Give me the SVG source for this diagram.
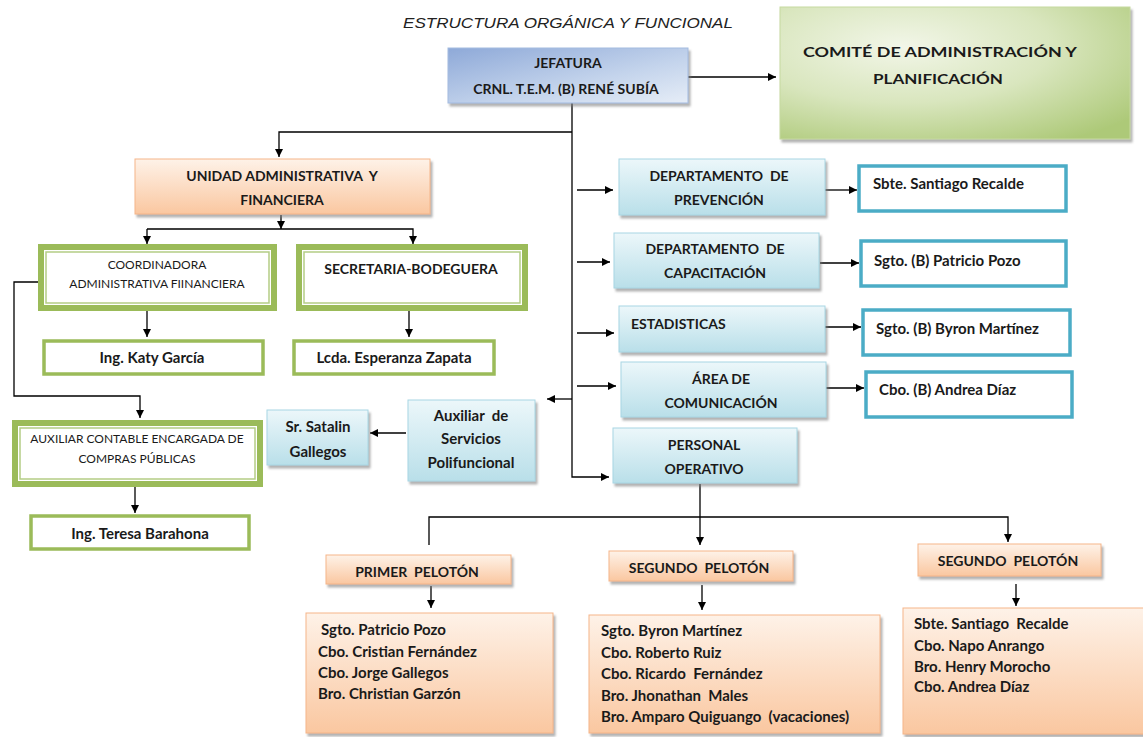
<svg xmlns="http://www.w3.org/2000/svg" width="1143" height="737" viewBox="0 0 1143 737">
<defs>
  <linearGradient id="gBlue" x1="0" y1="0" x2="0" y2="1">
    <stop offset="0" stop-color="#ecf7fa"/>
    <stop offset="1" stop-color="#b9dfe9"/>
  </linearGradient>
  <linearGradient id="gJef" x1="0" y1="0" x2="1" y2="1">
    <stop offset="0" stop-color="#8ea9d8"/>
    <stop offset="0.6" stop-color="#c4d4ec"/>
    <stop offset="1" stop-color="#e6edf7"/>
  </linearGradient>
  <radialGradient id="gCom" cx="0.35" cy="0.3" r="0.85">
    <stop offset="0" stop-color="#f2f6e8"/>
    <stop offset="0.5" stop-color="#d9e6be"/>
    <stop offset="1" stop-color="#adc978"/>
  </radialGradient>
  <linearGradient id="gOr" x1="0" y1="0" x2="0" y2="1">
    <stop offset="0" stop-color="#fef2e8"/>
    <stop offset="1" stop-color="#fac7a0"/>
  </linearGradient>
  <filter id="sh" x="-5%" y="-5%" width="115%" height="125%">
    <feDropShadow dx="2" dy="3" stdDeviation="1" flood-color="#7f7f7f" flood-opacity="0.6"/>
  </filter>
  <marker id="ar" viewBox="0 0 10 10" refX="10" refY="5" markerWidth="9" markerHeight="8" markerUnits="userSpaceOnUse" orient="auto">
    <path d="M0,0 L10,5 L0,10 Z" fill="#000"/>
  </marker>
  <style>
    .t{font-family:Lato,"Open Sans","Liberation Sans",sans-serif;font-weight:bold;font-size:14px;fill:#1a1a1a;white-space:pre}
    .m{font-size:15px}
    .c{text-anchor:middle}
    .s{font-size:12px;font-weight:normal}
    .blue{fill:url(#gBlue);stroke:#a8d6e3;stroke-width:1;filter:url(#sh)}
    .or{fill:url(#gOr);stroke:#f5b589;stroke-width:1;filter:url(#sh)}
    .gOut{fill:#fff;stroke:#9bbb59;stroke-width:6}
    .gIn{fill:#fff;stroke:#b4cd85;stroke-width:1.5}
    .gS{fill:#fff;stroke:#9bbb59;stroke-width:3.5}
    .teal{fill:#fff;stroke:#4bacc6;stroke-width:3.5}
    .la{fill:none;stroke:#000;stroke-width:1.3;marker-end:url(#ar)}
  </style>
</defs>
<rect width="1143" height="737" fill="#fff"/>

<text x="403" y="28" font-family="'Liberation Sans',Arial,sans-serif" font-style="italic" font-size="15" fill="#222" textLength="330" lengthAdjust="spacingAndGlyphs">ESTRUCTURA ORGÁNICA Y FUNCIONAL</text>

<g id="connectors">
  <path class="la" d="M688,77 H776"/>
  <path class="la" d="M572,103 V477 H609"/>
  <path class="la" d="M572,132 H279 V157"/>
  <path class="la" d="M577,190 H613"/>
  <path class="la" d="M577,262 H610"/>
  <path class="la" d="M577,333 H614"/>
  <path class="la" d="M577,386 H616"/>
  <path class="la" d="M572,399 H547"/>
  <path class="la" d="M825,190 H857"/>
  <path class="la" d="M820,263 H859"/>
  <path class="la" d="M825,327 H861"/>
  <path class="la" d="M826,388 H864"/>
  <path class="la" d="M281,215 V229"/>
  <path class="la" d="M147,229 H413 V244"/>
  <path class="la" d="M147,229 V244"/>
  <path class="la" d="M147,311 V337"/>
  <path class="la" d="M409,311 V337"/>
  <path class="la" d="M38,282 H14 V396 H140 V418"/>
  <path class="la" d="M135,487 V513"/>
  <path class="la" d="M406,433 H370"/>
  <path class="la" d="M700,484 V545"/>
  <path class="la" d="M429,545 V517 H1008 V542"/>
  <path class="la" d="M431,586 V608"/>
  <path class="la" d="M702,585 V610"/>
  <path class="la" d="M1016,584 V606"/>
</g>

<g id="jefatura">
  <rect x="448" y="48" width="240" height="55" fill="url(#gJef)" stroke="#a3bbe0" stroke-width="1" filter="url(#sh)"/>
  <text class="t c" x="568" y="68" font-size="13.5">JEFATURA</text>
  <text class="t c" x="566" y="94" font-size="15">CRNL. T.E.M. (B) RENÉ SUBÍA</text>
</g>

<g id="comite">
  <rect x="780" y="7" width="350" height="132" fill="url(#gCom)" stroke="#c6d9a0" stroke-width="1" filter="url(#sh)"/>
  <text class="t" x="803" y="57" font-size="19" textLength="274" lengthAdjust="spacingAndGlyphs">COMITÉ DE ADMINISTRACIÓN Y</text>
  <text class="t c" x="938" y="84" font-size="19" textLength="130" lengthAdjust="spacingAndGlyphs">PLANIFICACIÓN</text>
</g>

<g id="unidad">
  <rect x="135" y="159" width="295" height="55" class="or"/>
  <text class="t c" x="282" y="181">UNIDAD ADMINISTRATIVA  Y</text>
  <text class="t c" x="282" y="205">FINANCIERA</text>
</g>

<g id="coordinadora">
  <rect x="41" y="247" width="233" height="61" class="gOut"/>
  <rect x="46" y="252" width="223" height="51" class="gIn"/>
  <text class="t c s" x="157" y="269">COORDINADORA</text>
  <text class="t c s" x="157" y="288">ADMINISTRATIVA FIINANCIERA</text>
</g>

<g id="secretaria">
  <rect x="299" y="247" width="226" height="61" class="gOut"/>
  <rect x="304" y="252" width="216" height="51" class="gIn"/>
  <text class="t c" x="411" y="274">SECRETARIA-BODEGUERA</text>
</g>

<g id="katy">
  <rect x="44" y="341" width="219" height="33" class="gS"/>
  <text class="t c m" x="152" y="363">Ing. Katy García</text>
</g>

<g id="esperanza">
  <rect x="294" y="341" width="200" height="33" class="gS"/>
  <text class="t c m" x="394" y="363">Lcda. Esperanza Zapata</text>
</g>

<g id="auxiliar-contable">
  <rect x="15" y="423" width="245" height="61" class="gOut"/>
  <rect x="20" y="428" width="235" height="51" class="gIn"/>
  <text class="t c s" x="137" y="443">AUXILIAR CONTABLE ENCARGADA DE</text>
  <text class="t c s" x="137" y="463">COMPRAS PÚBLICAS</text>
</g>

<g id="teresa">
  <rect x="31" y="516" width="218" height="33" class="gS"/>
  <text class="t c m" x="140" y="539">Ing. Teresa Barahona</text>
</g>

<g id="satalin">
  <rect x="267" y="410" width="101" height="55" class="blue"/>
  <text class="t c m" x="318" y="432">Sr. Satalin</text>
  <text class="t c m" x="318" y="457">Gallegos</text>
</g>

<g id="auxiliar-servicios">
  <rect x="408" y="400" width="127" height="81" class="blue"/>
  <text class="t c m" x="471" y="421">Auxiliar  de</text>
  <text class="t c m" x="471" y="444">Servicios</text>
  <text class="t c m" x="471" y="468">Polifuncional</text>
</g>

<g id="prevencion">
  <rect x="619" y="159" width="206" height="56" class="blue"/>
  <text class="t c" x="719" y="181">DEPARTAMENTO  DE</text>
  <text class="t c" x="719" y="205">PREVENCIÓN</text>
</g>
<g id="recalde">
  <rect x="859" y="166" width="207" height="45" class="teal"/>
  <text class="t m" x="873" y="189">Sbte. Santiago Recalde</text>
</g>

<g id="capacitacion">
  <rect x="614" y="233" width="205" height="55" class="blue"/>
  <text class="t c" x="715" y="254">DEPARTAMENTO  DE</text>
  <text class="t c" x="715" y="278">CAPACITACIÓN</text>
</g>
<g id="pozo">
  <rect x="861" y="241" width="205" height="45" class="teal"/>
  <text class="t m" x="874" y="266">Sgto. (B) Patricio Pozo</text>
</g>

<g id="estadisticas">
  <rect x="619" y="306" width="206" height="46" class="blue"/>
  <text class="t" x="631" y="329">ESTADISTICAS</text>
</g>
<g id="byron">
  <rect x="863" y="310" width="207" height="45" class="teal"/>
  <text class="t m" x="876" y="334">Sgto. (B) Byron Martínez</text>
</g>

<g id="comunicacion">
  <rect x="621" y="362" width="205" height="55" class="blue"/>
  <text class="t c" x="721" y="384">ÁREA DE</text>
  <text class="t c" x="721" y="408">COMUNICACIÓN</text>
</g>
<g id="andrea">
  <rect x="866" y="372" width="206" height="45" class="teal"/>
  <text class="t m" x="879" y="395">Cbo. (B) Andrea Díaz</text>
</g>

<g id="personal-operativo">
  <rect x="613" y="428" width="184" height="55" class="blue"/>
  <text class="t c" x="704" y="450">PERSONAL</text>
  <text class="t c" x="704" y="474">OPERATIVO</text>
</g>

<g id="primer-peloton">
  <rect x="326" y="555" width="185" height="29" class="or"/>
  <text class="t c" x="417" y="577">PRIMER  PELOTÓN</text>
</g>
<g id="primer-lista">
  <rect x="306" y="613" width="247" height="120" class="or"/>
  <text class="t m" x="321" y="635">Sgto. Patricio Pozo</text>
  <text class="t m" x="318" y="657">Cbo. Cristian Fernández</text>
  <text class="t m" x="318" y="678">Cbo. Jorge Gallegos</text>
  <text class="t m" x="318" y="699">Bro. Christian Garzón</text>
</g>

<g id="segundo-peloton">
  <rect x="609" y="551" width="184" height="30" class="or"/>
  <text class="t c" x="699" y="573">SEGUNDO  PELOTÓN</text>
</g>
<g id="segundo-lista">
  <rect x="589" y="615" width="291" height="118" class="or"/>
  <text class="t m" x="601" y="636">Sgto. Byron Martínez</text>
  <text class="t m" x="601" y="658">Cbo. Roberto Ruiz</text>
  <text class="t m" x="601" y="679">Cbo. Ricardo  Fernández</text>
  <text class="t m" x="601" y="701">Bro. Jhonathan  Males</text>
  <text class="t m" x="601" y="722">Bro. Amparo Quiguango  (vacaciones)</text>
</g>

<g id="tercer-peloton">
  <rect x="918" y="544" width="183" height="32" class="or"/>
  <text class="t c" x="1008" y="566">SEGUNDO  PELOTÓN</text>
</g>
<g id="tercer-lista">
  <rect x="903" y="608" width="245" height="126" class="or"/>
  <text class="t m" x="914" y="629">Sbte. Santiago  Recalde</text>
  <text class="t m" x="914" y="651">Cbo. Napo Anrango</text>
  <text class="t m" x="914" y="672">Bro. Henry Morocho</text>
  <text class="t m" x="914" y="692">Cbo. Andrea Díaz</text>
</g>
</svg>
